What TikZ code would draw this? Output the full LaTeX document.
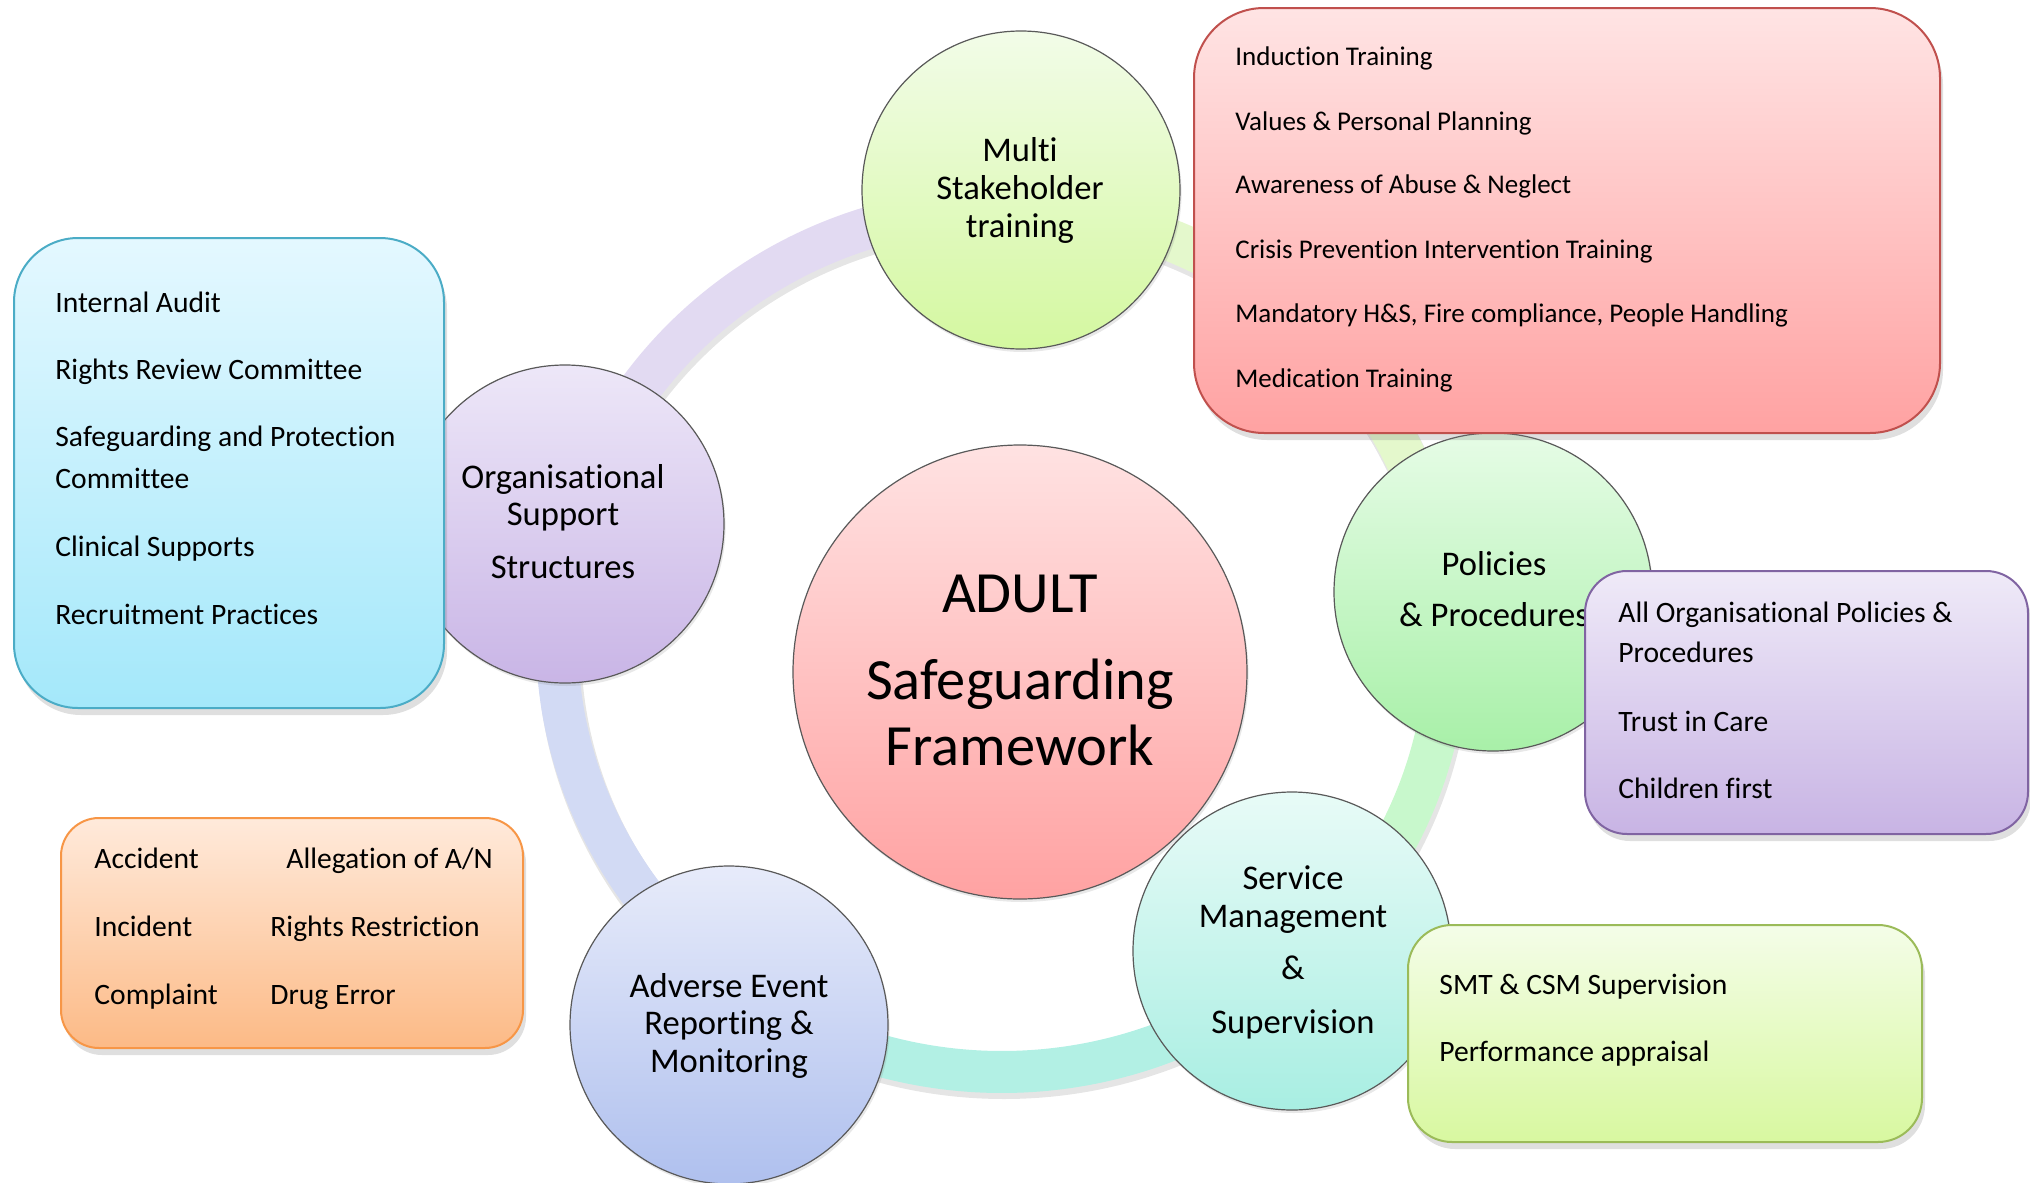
\documentclass[tikz,border=0pt]{standalone}
\usepackage{fontspec}
\setmainfont[Ligatures=NoCommon]{Carlito}
\usetikzlibrary{shadows}
\definecolor{cRedT}{HTML}{FFE2E2}\definecolor{cRedB}{HTML}{FFA2A2}
\definecolor{cMulT}{HTML}{F2FCE8}\definecolor{cMulB}{HTML}{D4F8A0}
\definecolor{cOrgT}{HTML}{EDE7F8}\definecolor{cOrgB}{HTML}{C9B5E6}
\definecolor{cPolT}{HTML}{E6FCE6}\definecolor{cPolB}{HTML}{A8F0A8}
\definecolor{cSerT}{HTML}{E8FBF7}\definecolor{cSerB}{HTML}{A8EEE2}
\definecolor{cAdvT}{HTML}{E7EBFA}\definecolor{cAdvB}{HTML}{AFC0EE}
\definecolor{bBluT}{HTML}{E4F8FF}\definecolor{bBluB}{HTML}{A4E8FA}\definecolor{bBluD}{HTML}{4BACC6}
\definecolor{bRedT}{HTML}{FFE4E4}\definecolor{bRedB}{HTML}{FFA2A2}\definecolor{bRedD}{HTML}{C0504D}
\definecolor{bPurT}{HTML}{EFEAF8}\definecolor{bPurB}{HTML}{C8B4E4}\definecolor{bPurD}{HTML}{8064A2}
\definecolor{bGrnT}{HTML}{F4FDE8}\definecolor{bGrnB}{HTML}{D8F8A0}\definecolor{bGrnD}{HTML}{9BBB59}
\definecolor{bOrnT}{HTML}{FFEADB}\definecolor{bOrnB}{HTML}{FCBA86}\definecolor{bOrnD}{HTML}{F79646}
\definecolor{rMul}{HTML}{E4F8CC}\definecolor{rPol}{HTML}{C8F8CC}\definecolor{rSer}{HTML}{B2F0E4}
\definecolor{rAdv}{HTML}{D2DAF4}\definecolor{rOrg}{HTML}{E2DAF2}
\begin{document}
\begin{tikzpicture}[x=0.5pt,y=-0.5pt,
  bubble/.style={circle, minimum size=159pt, inner sep=0pt, draw=black!65, line width=0.6pt,
     drop shadow={shadow xshift=0.8pt, shadow yshift=-1.5pt, opacity=0.18}},
  bigbubble/.style={bubble, minimum size=227pt},
  infobox/.style={rounded corners=#1, line width=1pt, inner sep=0pt,
     drop shadow={shadow xshift=1.5pt, shadow yshift=-3.5pt, opacity=0.25}},
  boxtxt/.style={anchor=base west, inner sep=0pt, font=\fontsize{14.8pt}{17pt}\selectfont},
  redtxt/.style={boxtxt, font=\fontsize{13.5pt}{16pt}\selectfont},
  ctxt/.style={anchor=base, inner sep=0pt, font=\fontsize{17.3pt}{20pt}\selectfont},
  mtxt/.style={anchor=base, inner sep=0pt, font=\fontsize{29.2pt}{34pt}\selectfont},
  ringseg/.style={line width=21pt, draw=#1}
]
\useasboundingbox (0,0) rectangle (2030,1183);
\coordinate (rc) at (1002,640);
% ring shadow
\draw[line width=22pt, black, opacity=0.10] ([shift={(0:445 and 432)}]1004,645) arc[start angle=0, end angle=360, x radius=445, y radius=432];
% ring segments
\draw[ringseg=rMul] ([shift={(-87.6:445 and 432)}]rc) arc[start angle=-87.6, end angle=-5.6, x radius=445, y radius=432];
\draw[ringseg=rPol] ([shift={(-5.6:445 and 432)}]rc) arc[start angle=-5.6, end angle=47, x radius=445, y radius=432];
\draw[ringseg=rSer] ([shift={(47:445 and 432)}]rc) arc[start angle=47, end angle=125.3, x radius=445, y radius=432];
\draw[ringseg=rAdv] ([shift={(125.3:445 and 432)}]rc) arc[start angle=125.3, end angle=194.9, x radius=445, y radius=432];
\draw[ringseg=rOrg] ([shift={(194.9:445 and 432)}]rc) arc[start angle=194.9, end angle=272.4, x radius=445, y radius=432];
% bubbles
\node[bigbubble, top color=cRedT, bottom color=cRedB] (core) at (1020,672) {};
\node[bubble, top color=cMulT, bottom color=cMulB] (mul) at (1021,190) {};
\node[bubble, top color=cOrgT, bottom color=cOrgB] (org) at (565,524) {};
\node[bubble, top color=cPolT, bottom color=cPolB] (pol) at (1493,592) {};
\node[bubble, top color=cSerT, bottom color=cSerB] (ser) at (1292,951) {};
\node[bubble, top color=cAdvT, bottom color=cAdvB] (adv) at (729,1025) {};
% bubble texts
\node[mtxt] (core1) at (1020,612) {ADULT};
\node[mtxt] (core2) at (1020,699) {Safeguarding};
\node[mtxt] (core3) at (1020,765) {Framework};
\node[ctxt] (mul1) at (1020,161) {Multi};
\node[ctxt] (mul2) at (1020,199) {Stakeholder};
\node[ctxt] (mul3) at (1020,237) {training};
\node[ctxt] (org1) at (563,488) {Organisational};
\node[ctxt] (org2) at (563,525) {Support};
\node[ctxt] (org3) at (563,578) {Structures};
\node[ctxt] (pol1) at (1494,575) {Policies};
\node[ctxt] (pol2) at (1494,626) {\& Procedures};
\node[ctxt] (ser1) at (1293,889) {Service};
\node[ctxt] (ser2) at (1293,927) {Management};
\node[ctxt] (ser3) at (1293,979) {\&};
\node[ctxt] (ser4) at (1293,1033) {Supervision};
\node[ctxt] (adv1) at (729,997) {Adverse Event};
\node[ctxt] (adv2) at (729,1034) {Reporting \&};
\node[ctxt] (adv3) at (729,1072) {Monitoring};
% boxes
\node[infobox=32pt, draw=bBluD, top color=bBluT, bottom color=bBluB, minimum width=215pt, minimum height=235pt] (blu) at (229,473) {};
\node[infobox=35pt, draw=bRedD, top color=bRedT, bottom color=bRedB, minimum width=373pt, minimum height=212.5pt] (red) at (1567,220.5) {};
\node[infobox=21pt, draw=bPurD, top color=bPurT, bottom color=bPurB, minimum width=221.5pt, minimum height=131.5pt] (pur) at (1806.5,702.5) {};
\node[infobox=22pt, draw=bGrnD, top color=bGrnT, bottom color=bGrnB, minimum width=257pt, minimum height=108.5pt] (grn) at (1665,1033.5) {};
\node[infobox=19pt, draw=bOrnD, top color=bOrnT, bottom color=bOrnB, minimum width=231pt, minimum height=115pt] (orn) at (292,933) {};
% box texts
\node[boxtxt] (b1) at (55,312) {Internal Audit};
\node[boxtxt] (b2) at (55,379) {Rights Review Committee};
\node[boxtxt] (b3) at (55,446) {Safeguarding and Protection};
\node[boxtxt] (b4) at (55,488) {Committee};
\node[boxtxt] (b5) at (55,556) {Clinical Supports};
\node[boxtxt] (b6) at (55,624) {Recruitment Practices};
\node[redtxt] (r1) at (1235,65) {Induction Training};
\node[redtxt] (r2) at (1235,130) {Values \& Personal Planning};
\node[redtxt] (r3) at (1235,193) {Awareness of Abuse \& Neglect};
\node[redtxt] (r4) at (1235,258) {Crisis Prevention Intervention Training};
\node[redtxt] (r5) at (1235,322) {Mandatory H\&S, Fire compliance, People Handling};
\node[redtxt] (r6) at (1235,387) {Medication Training};
\node[boxtxt] (p1) at (1618,622) {All Organisational Policies \&};
\node[boxtxt] (p2) at (1618,662) {Procedures};
\node[boxtxt] (p3) at (1618,731) {Trust in Care};
\node[boxtxt] (p4) at (1618,798) {Children first};
\node[boxtxt] (g1) at (1439,994) {SMT \& CSM Supervision};
\node[boxtxt] (g2) at (1439,1061) {Performance appraisal};
\node[boxtxt] (o1) at (94,868) {Accident};
\node[boxtxt] (o2) at (286,868) {Allegation of A/N};
\node[boxtxt] (o3) at (94,936) {Incident};
\node[boxtxt] (o4) at (270,936) {Rights Restriction};
\node[boxtxt] (o5) at (94,1004) {Complaint};
\node[boxtxt] (o6) at (270,1004) {Drug Error};
\end{tikzpicture}
\end{document}
